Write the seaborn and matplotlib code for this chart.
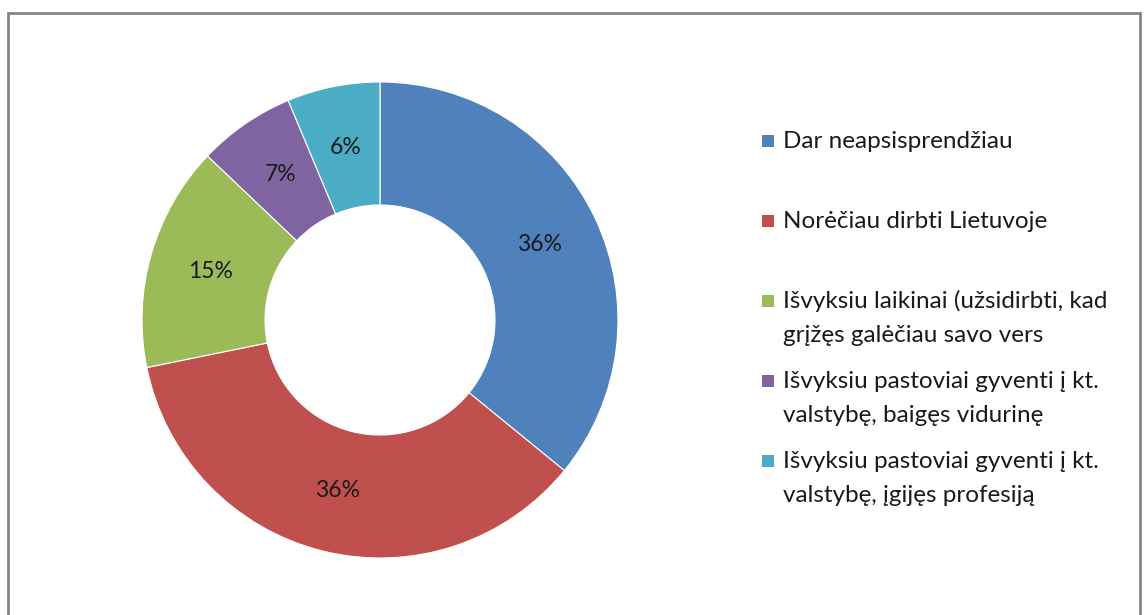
import numpy as np
import seaborn as sns
import matplotlib.pyplot as plt
from matplotlib.patches import Rectangle

# data (percent)
categories = ["Dar neapsisprendžiau",
              "Norėčiau dirbti Lietuvoje",
              "Išvyksiu laikinai (užsidirbti, kad\ngrįžęs galėčiau savo vers",
              "Išvyksiu pastoviai gyventi į kt.\nvalstybę, baigęs vidurinę",
              "Išvyksiu pastoviai gyventi į kt.\nvalstybę, įgijęs profesiją"]
shares = [35.9, 35.9, 15.3, 6.6, 6.3]
colors = ["#4F81BD", "#C0504D", "#9BBB59", "#8064A2", "#4BACC6"]

sns.set_theme(style="white")
plt.rcParams['font.family'] = ['Lato', 'DejaVu Sans']

W, H = 1145, 615
fig = plt.figure(figsize=(W / 100, H / 100), dpi=100)
ax = fig.add_axes([0, 0, 1, 1])
ax.set_aspect('equal')
ax.axis('off')

palette = sns.color_palette(colors)
ax.pie(shares, colors=palette, center=(380, H - 320), radius=238,
       startangle=90, counterclock=False,
       autopct=lambda p: '%.0f%%' % p, pctdistance=0.74,
       wedgeprops=dict(width=123, edgecolor='white', linewidth=0.8),
       textprops=dict(fontsize=16.5, color='#1a1a1a'))
ax.set_xlim(0, W)
ax.set_ylim(0, H)

# outer frame (bottom edge runs off the picture)
ax.add_patch(Rectangle((8, -10), 1132, H - 13 + 10, fill=False,
                       edgecolor='#868686', linewidth=2, clip_on=False))

# legend, one entry every 80 px, marker next to the first line
for i, (label, c) in enumerate(zip(categories, colors)):
    y0 = H - 141 - i * 80
    ax.add_patch(Rectangle((762, y0 - 6), 12, 12, facecolor=c, edgecolor='none'))
    for j, line in enumerate(label.split('\n')):
        ax.text(783, y0 - j * 34, line, fontsize=17.5, color='#1a1a1a',
                ha='left', va='center')

fig.savefig('out.png', dpi=100)
